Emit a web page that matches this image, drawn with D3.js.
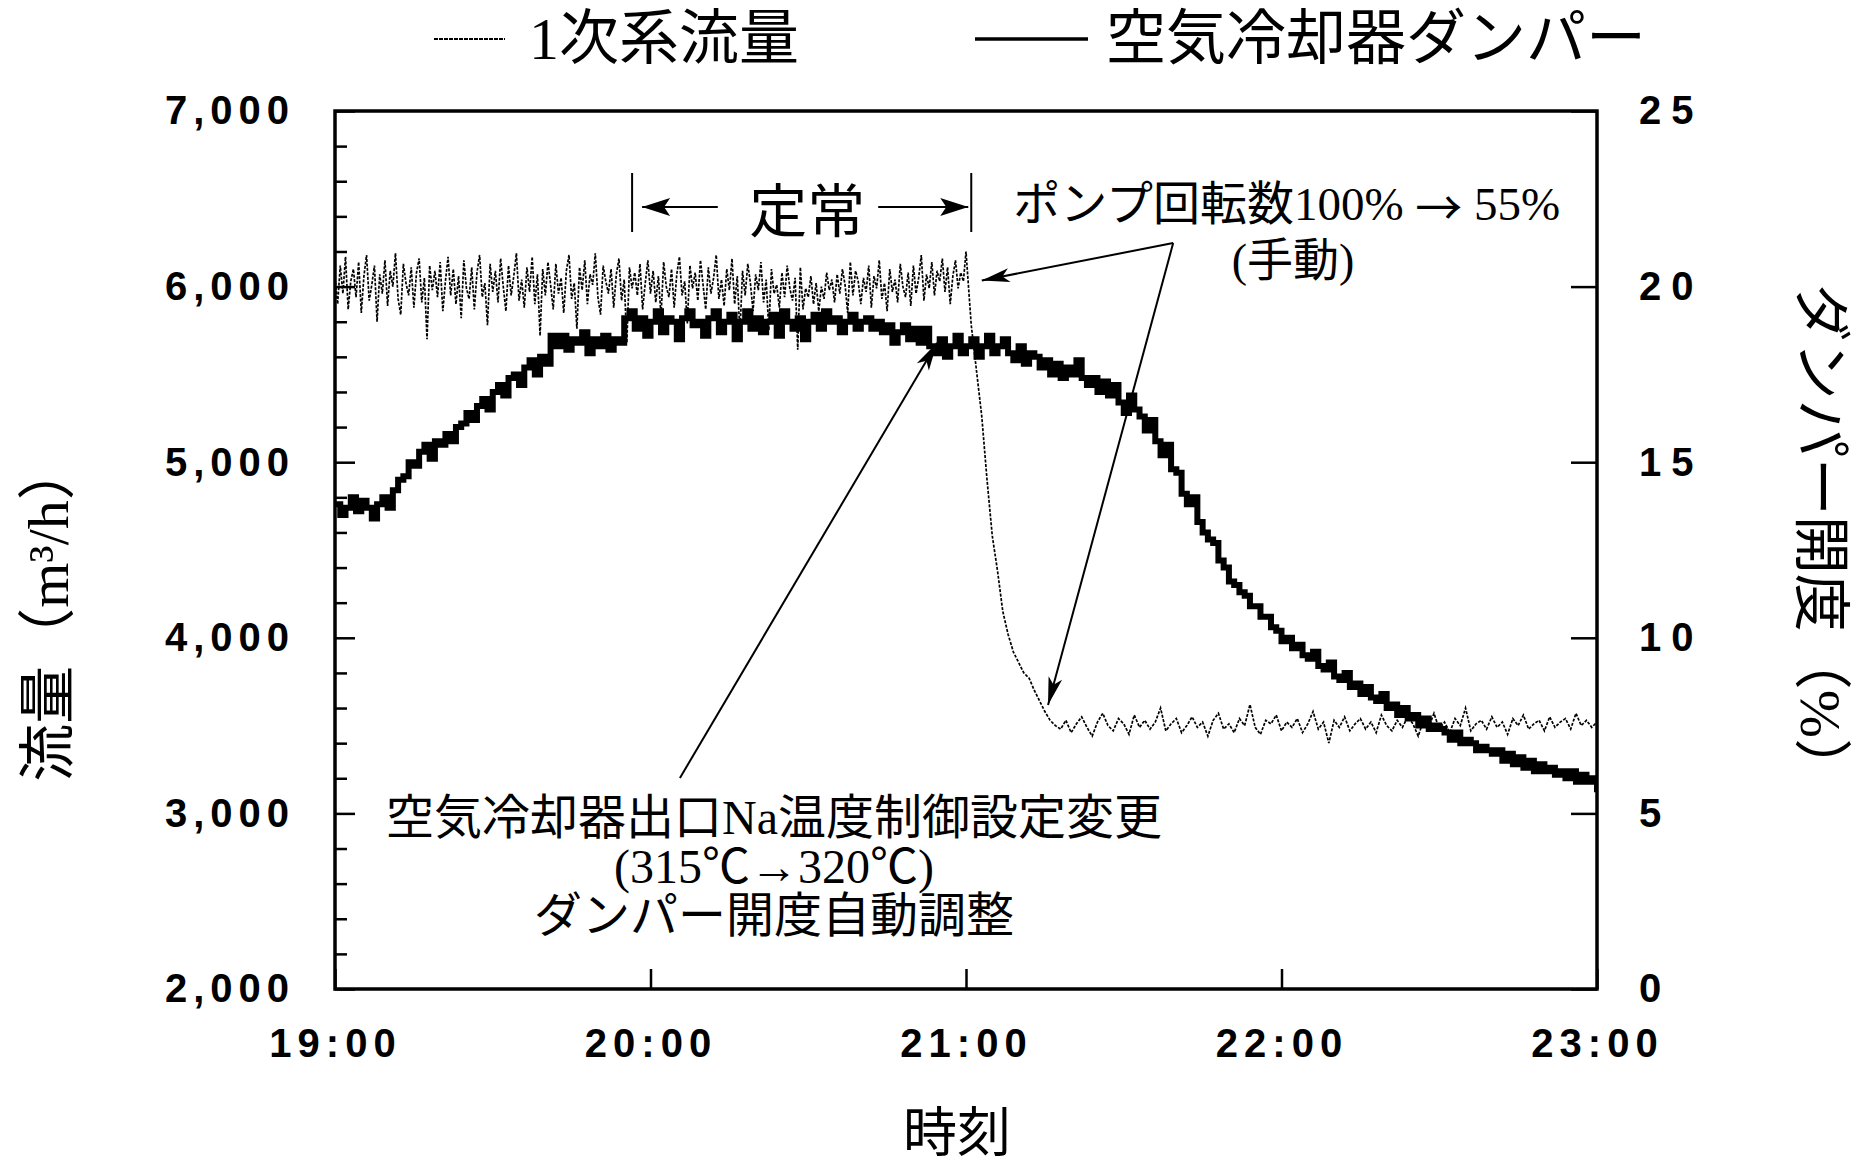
<!DOCTYPE html>
<html><head><meta charset="utf-8">
<script src="https://cdn.jsdelivr.net/npm/d3@7"></script>
<style>
html,body{margin:0;padding:0;background:#fff;}
svg{display:block;}
</style></head>
<body>
<svg id="chart" width="1865" height="1168"></svg>
<script>
// ---------- data ----------
const timeTicks = [0, 60, 120, 180, 240];          // minutes after 19:00
const timeTickLabels = ["19:00", "20:00", "21:00", "22:00", "23:00"];
const flowTicks = [2000, 3000, 4000, 5000, 6000, 7000];
const flowMinorTicks = [2200,2400,2600,2800,3200,3400,3600,3800,4200,4400,4600,4800,5200,5400,5600,5800,6200,6400,6600,6800];
const damperTicks = [0, 5, 10, 15, 20, 25];
const seriesNames = ["1次系流量", "空気冷却器ダンパー"];

// 1次系流量 (m3/h), left axis — 30 s samples, 19:00:00 .. 20:59:30
const flowSteady = [
6050,5900,6120,5960,6170,5870,6030,6100,5940,6140,5850,6060,
6180,5920,6010,6120,5800,6070,5960,6150,5890,6090,6000,6190,
5930,5840,6130,6020,5950,6110,5880,6080,6160,5910,6050,5700,
6120,5980,6090,5940,6140,5860,6030,6170,5950,6100,5900,6060,
5820,6150,5990,5930,6110,5870,6080,6180,5940,6020,5780,6130,
5970,6090,5910,6160,6000,5860,6120,5950,6060,6190,5920,6040,
5880,6110,5970,6170,5900,6070,5720,6100,5950,6140,6010,5870,
6130,5960,6050,5850,6090,6180,5930,6020,5760,6110,5980,6150,
5900,6070,6010,6190,5940,5840,6120,6030,5960,6100,5880,6070,
6160,5920,6040,5680,6110,5990,6080,5950,6130,5870,6020,6150,
5960,6090,5910,6060,5830,6140,6000,5940,6100,5880,6070,6170,
5950,6030,5790,6120,5990,6080,5920,6150,6010,5870,6110,5960,
6050,6180,5930,6040,5890,6100,5980,6160,5900,6060,5730,6090,
5950,6130,6020,5860,6070,5980,6140,5910,6040,5750,6100,5960,
6010,5880,6080,5940,6120,5990,5920,6050,5640,6110,5870,5990,
5940,6060,5900,6020,5860,6000,5930,6080,5980,6040,5910,6070,
5960,6100,6010,5850,6140,5950,6090,6030,5900,6050,5970,6120,
5880,6060,5990,6150,5930,6020,5860,6100,5970,6040,5910,6130,
6000,5940,6080,5890,6120,5960,6050,6180,5920,6070,5990,6140,
5950,6090,6030,6160,5970,6110,5900,6060,6150,5990,6080,6030
];
// 1-minute samples, 21:00 .. 23:00
const flowAfter = [
6200,
5780,5520,5260,4900,4580,4380,4150,4020,3920,3860,
3800,3770,3700,3640,3580,3530,3500,
3480,3530,3460,3510,3550,3490,3440,3520,3570,3500,
3470,3540,3510,3450,3560,3490,3530,3480,3520,3600,
3470,3510,3540,3460,3500,3550,3490,3520,3440,3530,
3570,3480,3510,3460,3540,3500,3620,3490,3450,3530,
3510,3560,3470,3520,3490,3540,3460,3510,3580,3480,
3520,3400,3530,3490,3550,3470,3510,3540,3480,3520,
3460,3560,3500,3470,3530,3490,3550,3510,3440,3530,
3490,3570,3480,3520,3460,3540,3500,3600,3470,3510,
3530,3480,3550,3490,3520,3450,3540,3500,3560,3480,
3510,3530,3470,3550,3490,3520,3540,3480,3570,3500,
3530,3490,3520
];

// 空気冷却器ダンパー開度 (%), right axis — 1-minute samples 19:00 .. 23:00
const damper = [
13.8,13.5,13.7,14.0,13.6,13.9,13.7,13.4,13.8,14.0,13.7,
14.2,14.5,14.6,15.0,14.9,15.3,15.5,15.1,15.6,15.5,
15.8,15.6,16.0,16.1,16.4,16.2,16.6,16.8,16.5,17.0,
17.2,16.9,17.4,17.5,17.2,17.7,17.9,17.5,18.0,17.8,
18.6,18.3,18.6,18.2,18.5,18.4,18.7,18.1,18.5,18.3,18.6,18.2,18.5,18.4,
19.1,19.3,18.8,19.1,18.6,19.0,19.3,18.7,19.1,19.0,
18.5,19.1,19.3,18.9,19.0,18.6,19.1,19.3,18.7,19.0,
19.2,18.5,19.0,19.3,18.8,19.1,18.7,19.0,19.2,18.6,
19.3,19.0,18.8,19.1,18.5,19.0,19.2,18.8,19.3,19.0,
19.1,18.7,19.0,19.2,18.8,19.0,19.1,18.8,19.0,
18.7,18.9,18.4,18.7,18.9,18.5,18.8,18.4,18.8,
18.3,18.1,18.5,18.0,18.3,18.6,18.1,18.3,18.5,18.0,18.3,18.6,18.1,18.3,18.5,
18.1,17.9,18.3,17.8,18.1,18.0,
17.7,17.9,17.5,17.8,17.4,17.7,17.5,17.9,17.4,
17.2,17.4,17.0,17.3,16.9,17.2,
16.7,16.4,16.9,16.5,16.3,
15.9,16.2,15.6,15.2,15.5,14.8,14.7,
14.1,13.8,14.0,13.3,13.0,12.8,12.7,12.2,12.0,11.6,
11.5,11.3,11.2,10.9,10.9,10.6,10.6,10.3,10.2,9.9,
10.0,9.7,9.8,9.5,9.4,9.6,9.2,9.1,9.3,8.9,
8.8,9.0,8.6,8.7,8.4,8.6,8.3,8.2,8.4,8.0,
8.1,7.8,8.0,7.7,7.8,7.5,7.7,7.4,7.5,7.4,
7.3,7.1,7.3,7.0,7.1,7.0,6.8,6.9,6.8,6.7,
6.8,6.5,6.7,6.4,6.6,6.3,6.5,6.2,6.4,6.2,
6.3,6.1,6.2,6.0,6.2,5.9,6.1,5.9,6.0,5.6
];

// annotation anchor points in data units: [minute after 19:00, flow m3/h]
const steadySpan = [56.5, 121];
const steadyLabel = "定常";
const pumpLabel = ["ポンプ回転数100% → 55%", "(手動)"];
const pumpRows = [6468, 6150];
const pumpArrowFrom = [159.4, 6248];
const pumpArrowTo = [[123, 6035], [135.6, 3617]];
const setpointLabel = ["空気冷却器出口Na温度制御設定変更", "(315℃→320℃)", "ダンパー開度自動調整"];
const setpointRows = [2974, 2700, 2416];
const setpointArrow = [[65.6, 3202], [114.5, 5680]];

// ---------- drawing ----------
const svg = d3.select("#chart");
const W = 1865, H = 1168;
const plot = {left: 335, right: 1597, top: 111, bottom: 989};

const x = d3.scaleLinear().domain([0, 240]).range([plot.left, plot.right]);
const yL = d3.scaleLinear().domain([2000, 7000]).range([plot.bottom, plot.top]);
const yR = d3.scaleLinear().domain([0, 25]).range([plot.bottom, plot.top]);

const latin = "'Liberation Sans', Arial, sans-serif";
const jp = "'Noto Sans CJK JP', sans-serif";
const serifJp = "'Liberation Serif', 'Noto Sans CJK JP', serif";

svg.append("rect").attr("width", W).attr("height", H).attr("fill", "#fff");

const defs = svg.append("defs");
defs.append("clipPath").attr("id", "clip").append("rect")
  .attr("x", plot.left).attr("y", plot.top)
  .attr("width", plot.right - plot.left).attr("height", plot.bottom - plot.top);
defs.append("marker").attr("id", "head").attr("markerUnits", "userSpaceOnUse")
  .attr("viewBox", "-30 -10 32 20").attr("refX", 0).attr("refY", 0)
  .attr("markerWidth", 32).attr("markerHeight", 20).attr("orient", "auto")
  .append("path").attr("d", "M0,0 L-28,-7 L-21,0 L-28,7 Z").attr("fill", "#000");
defs.append("marker").attr("id", "bighead").attr("markerUnits", "userSpaceOnUse")
  .attr("viewBox", "-30 -12 32 24").attr("refX", 0).attr("refY", 0)
  .attr("markerWidth", 32).attr("markerHeight", 24).attr("orient", "auto")
  .append("path").attr("d", "M0,0 L-28,-9 L-22,0 L-28,9 Z").attr("fill", "#000");

// text with "→" drawn from the CJK font (full-size arrow)
function mixedText(sel, str) {
  const parts = str.split("→");
  parts.forEach((p, i) => {
    if (i > 0) sel.append("tspan").style("font-family", jp).text("→");
    sel.append("tspan").text(p);
  });
  return sel;
}

// axes
function styleAxis(g, size, spacing) {
  g.select(".domain").remove();
  g.selectAll(".tick line").attr("stroke", "#000").attr("stroke-width", 2.5);
  g.selectAll(".tick text").attr("fill", "#000")
    .style("font-family", latin).style("font-size", size + "px")
    .style("font-weight", "bold").style("letter-spacing", spacing + "px");
}

const gLeftMinor = svg.append("g").attr("transform", `translate(${plot.left},0)`)
  .call(d3.axisLeft(yL).tickValues(flowMinorTicks).tickSize(-12).tickFormat(""));
styleAxis(gLeftMinor, 39, 0);

const gLeft = svg.append("g").attr("transform", `translate(${plot.left},0)`)
  .call(d3.axisLeft(yL).tickValues(flowTicks).tickSize(-20).tickPadding(40).tickFormat(d3.format(",")));
styleAxis(gLeft, 40, 6);

const gRight = svg.append("g").attr("transform", `translate(${plot.right},0)`)
  .call(d3.axisRight(yR).tickValues(damperTicks).tickSize(-26).tickPadding(42).tickFormat(d3.format("d")));
styleAxis(gRight, 40, 10);

const gBottom = svg.append("g").attr("transform", `translate(0,${plot.bottom})`)
  .call(d3.axisBottom(x).tickValues(timeTicks).tickSize(-20).tickPadding(40)
    .tickFormat((d, i) => timeTickLabels[i]));
styleAxis(gBottom, 40, 6);

// series (time of each sample from its index and the sampling interval)
const flowPts = flowSteady.map((v, i) => [i * 0.5, v])
  .concat(flowAfter.map((v, i) => [120 + i, v]));
const damperPts = damper.map((v, i) => [i, v]);

const flowLine = d3.line().x(d => x(d[0])).y(d => yL(d[1]));
const damperLine = d3.line().curve(d3.curveStepAfter).x(d => x(d[0])).y(d => yR(d[1]));

const gData = svg.append("g").attr("clip-path", "url(#clip)");
gData.append("path").datum(flowPts).attr("d", flowLine)
  .attr("fill", "none").attr("stroke", "#000").attr("stroke-width", 1.7)
  .attr("stroke-dasharray", "3,1.5");
gData.append("path").datum(damperPts).attr("d", damperLine)
  .attr("fill", "none").attr("stroke", "#000").attr("stroke-width", 6)
  .attr("stroke-linejoin", "miter");

// frame
svg.append("rect").attr("x", plot.left).attr("y", plot.top)
  .attr("width", plot.right - plot.left).attr("height", plot.bottom - plot.top)
  .attr("fill", "none").attr("stroke", "#000").attr("stroke-width", 3.5);

// axis titles
svg.append("text").attr("transform", `translate(48,612) rotate(-90)`)
  .attr("text-anchor", "middle").attr("dominant-baseline", "central")
  .style("font-family", serifJp).style("font-size", "58px").text("流量（m³/h）");
svg.append("text").attr("transform", `translate(1820,540) rotate(90)`)
  .attr("text-anchor", "middle").attr("dominant-baseline", "central")
  .style("font-family", serifJp).style("font-size", "58px").text("ダンパー開度（%）");
svg.append("text").attr("x", 957).attr("y", 1128)
  .attr("text-anchor", "middle").attr("dominant-baseline", "central")
  .style("font-family", jp).style("font-size", "54px").text("時刻");

// legend
const gLeg = svg.append("g");
gLeg.append("line").attr("x1", 434).attr("x2", 505).attr("y1", 39).attr("y2", 39)
  .attr("stroke", "#000").attr("stroke-width", 2).attr("stroke-dasharray", "4,1");
gLeg.append("text").attr("x", 529).attr("y", 39).attr("dominant-baseline", "central")
  .style("font-family", serifJp).style("font-size", "60px").text(seriesNames[0]);
gLeg.append("line").attr("x1", 975).attr("x2", 1088).attr("y1", 39).attr("y2", 39)
  .attr("stroke", "#000").attr("stroke-width", 3.5);
gLeg.append("text").attr("x", 1106).attr("y", 39).attr("dominant-baseline", "central")
  .style("font-family", serifJp).style("font-size", "60px").text(seriesNames[1]);

// annotations
const gAnn = svg.append("g");
steadySpan.forEach(t => {
  gAnn.append("line").attr("x1", x(t)).attr("x2", x(t)).attr("y1", yL(6647)).attr("y2", yL(6311))
    .attr("stroke", "#000").attr("stroke-width", 2);
});
gAnn.append("line").attr("x1", x(72.8)).attr("x2", x(steadySpan[0]) + 10).attr("y1", yL(6453)).attr("y2", yL(6453))
  .attr("stroke", "#000").attr("stroke-width", 2).attr("marker-end", "url(#bighead)");
gAnn.append("line").attr("x1", x(103.3)).attr("x2", x(steadySpan[1]) - 3).attr("y1", yL(6453)).attr("y2", yL(6453))
  .attr("stroke", "#000").attr("stroke-width", 2).attr("marker-end", "url(#bighead)");
gAnn.append("text").attr("x", x(89.8)).attr("y", yL(6453)).attr("text-anchor", "middle")
  .attr("dominant-baseline", "central").style("font-family", jp).style("font-size", "58px").text(steadyLabel);

mixedText(gAnn.append("text").attr("x", x(129)).attr("y", yL(pumpRows[0])).attr("dominant-baseline", "central")
  .style("font-family", serifJp).style("font-size", "47px"), pumpLabel[0]);
gAnn.append("text").attr("x", x(182.2)).attr("y", yL(pumpRows[1])).attr("text-anchor", "middle")
  .attr("dominant-baseline", "central").style("font-family", serifJp).style("font-size", "46px").text(pumpLabel[1]);
pumpArrowTo.forEach(p => {
  gAnn.append("line").attr("x1", x(pumpArrowFrom[0])).attr("y1", yL(pumpArrowFrom[1]))
    .attr("x2", x(p[0])).attr("y2", yL(p[1]))
    .attr("stroke", "#000").attr("stroke-width", 2).attr("marker-end", "url(#head)");
});

setpointLabel.forEach((s, i) => {
  gAnn.append("text").attr("x", x(83.5)).attr("y", yL(setpointRows[i]))
    .attr("text-anchor", "middle").attr("dominant-baseline", "central")
    .style("font-family", serifJp).style("font-size", "48px").text(s);
});
gAnn.append("line").attr("x1", x(setpointArrow[0][0])).attr("y1", yL(setpointArrow[0][1]))
  .attr("x2", x(setpointArrow[1][0])).attr("y2", yL(setpointArrow[1][1]))
  .attr("stroke", "#000").attr("stroke-width", 2).attr("marker-end", "url(#head)");
</script>
</body></html>
